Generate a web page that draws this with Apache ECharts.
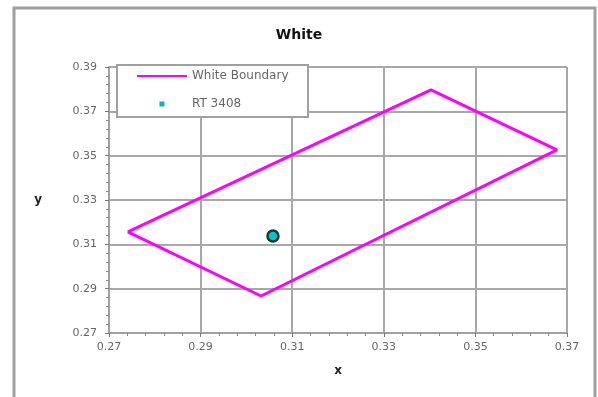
<!DOCTYPE html>
<html>
<head>
<meta charset="utf-8">
<script src="https://cdn.jsdelivr.net/npm/echarts@6/dist/echarts.min.js"></script>
<style>
  html, body { margin: 0; padding: 0; background: #fff; }
  #chart { width: 598px; height: 397px; }
</style>
</head>
<body>
<div id="chart"></div>
<script>
"use strict";
// White boundary polygon (x, y), closed back to the start
const boundaryX = [0.2741, 0.3403, 0.3678, 0.3032, 0.2741];
const boundaryY = [0.3156, 0.3797, 0.3526, 0.2867, 0.3156];
// measured sample
const sampleX = [0.3058];
const sampleY = [0.3138];
const seriesNames = ['White Boundary', 'RT 3408'];

const zip = (xs, ys) => xs.map((x, i) => [x, ys[i]]);

const chart = echarts.init(document.getElementById('chart'));
const font = 'DejaVu Sans';
const axisText = { color: '#666', fontSize: 11, fontFamily: font };
const gridLine = { show: true, lineStyle: { color: '#a8a8a8', width: 2 } };

const option = {
    animation: false,
    title: {
        text: 'White',
        left: 'center',
        top: 23,
        textStyle: { fontSize: 14, fontWeight: 'bold', color: '#111', fontFamily: font }
    },
    graphic: [
        {
            type: 'rect',
            z: -10,
            shape: { x: 14, y: 8, width: 581, height: 400 },
            style: { fill: '#fff', stroke: '#a0a0a0', lineWidth: 3 }
        },
        {
            type: 'rect',
            z: 3,
            shape: { x: 117, y: 65, width: 191, height: 52 },
            style: { fill: '#fff', stroke: '#a0a0a0', lineWidth: 2 }
        }
    ],
    legend: {
        z: 5,
        orient: 'vertical',
        left: 136,
        top: 70,
        padding: 0,
        itemWidth: 50,
        itemHeight: 5,
        itemGap: 16,
        textStyle: { fontSize: 12, color: '#666', fontFamily: font },
        data: [
            { name: seriesNames[0], itemStyle: { opacity: 0 } },
            { name: seriesNames[1], icon: 'path://M0,0L1,0L1,1L0,1Z', itemStyle: { color: '#00b8c0', borderWidth: 0 } }
        ]
    },
    grid: { left: 109, right: 31, top: 67, bottom: 64 },
    xAxis: {
        type: 'value',
        name: 'x',
        nameLocation: 'middle',
        nameGap: 32,
        nameTextStyle: { fontSize: 12, color: '#222', fontFamily: font, fontWeight: 'bold' },
        min: 0.27,
        max: 0.37,
        interval: 0.02,
        axisLine: { lineStyle: { color: '#a0a0a0', width: 2 } },
        axisTick: { length: 4, lineStyle: { color: '#777' } },
        minorTick: { show: true, splitNumber: 5, length: 3, lineStyle: { color: '#888' } },
        axisLabel: Object.assign({ margin: 9 }, axisText),
        splitLine: gridLine
    },
    yAxis: {
        type: 'value',
        name: 'y',
        nameLocation: 'middle',
        nameRotate: 0,
        nameGap: 67,
        nameTextStyle: { fontSize: 12, color: '#222', fontFamily: font, fontWeight: 'bold' },
        min: 0.27,
        max: 0.39,
        interval: 0.02,
        axisLine: { show: true, lineStyle: { color: '#a0a0a0', width: 2 } },
        axisTick: { show: true, length: 4, lineStyle: { color: '#777' } },
        minorTick: { show: true, splitNumber: 5, length: 3, lineStyle: { color: '#888' } },
        axisLabel: Object.assign({ margin: 12 }, axisText),
        splitLine: gridLine
    },
    series: [
        {
            name: seriesNames[0],
            type: 'line',
            symbol: 'none',
            data: zip(boundaryX, boundaryY),
            lineStyle: { color: '#ff00ff', width: 3 },
            itemStyle: { color: '#ff00ff' },
            z: 2
        },
        {
            name: seriesNames[1],
            type: 'scatter',
            symbol: 'circle',
            symbolSize: 11,
            data: zip(sampleX, sampleY),
            itemStyle: { color: '#00c4c8', borderColor: '#1a3535', borderWidth: 2.5, opacity: 1 },
            z: 3
        }
    ]
};
chart.setOption(option);
</script>
</body>
</html>
